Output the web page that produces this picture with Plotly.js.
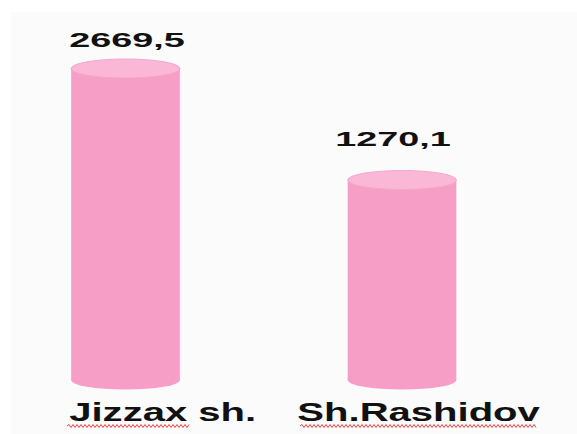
<!DOCTYPE html>
<html>
<head>
<meta charset="utf-8">
<script src="https://cdn.plot.ly/plotly-3.0.1.min.js"></script>
<style>
  html, body { margin: 0; padding: 0; background: #ffffff; }
  #chart { width: 577px; height: 434px; }
</style>
</head>
<body>
<div id="chart"></div>
<script>
// ---- data ----
const categories = ['Jizzax sh.', 'Sh.Rashidov'];
const values = [2669.5, 1270.1];
const valueLabels = ['2669,5', '1270,1'];

// ---- styles / positions (not data) ----
const sideColor = 'rgb(246,158,198)';
const topColor = 'rgb(250,184,214)';
const topLine = 'rgb(244,166,203)';
const barWidth = 0.393;
const yRange = [2.5255, 3.5667];
const plotTop = 20, plotBottom = 54;
const pxPerDecade = (434 - plotTop - plotBottom) / (yRange[1] - yRange[0]);
const ellipseHalfH = 9.5;
const ellipseFactor = Math.pow(10, ellipseHalfH / pxPerDecade);
const valueShiftX = [2, -9];
const valueShiftY = [29, 42];
const catShiftX = [36.5, 16.5];
const catShiftY = -32;
const squiggleSpan = [[-58.5, 64.5], [-102, 135]];  // px relative to bar centre
const squiggleY = -46;
const fontFam = '"Liberation Sans", Arial, sans-serif';

const traces = [{
  type: 'bar',
  x: categories,
  y: values,
  width: barWidth,
  marker: { color: sideColor, line: { width: 0 } },
  hoverinfo: 'skip',
  showlegend: false
}];

const shapes = [{
  type: 'rect', xref: 'paper', yref: 'paper', layer: 'below',
  x0: 0.019, x1: 1.0, y0: -0.16, y1: 1.022,
  fillcolor: '#fbfbfb', line: { width: 0 }
}];

function zigzag(x0, x1, y) {
  let p = 'M' + x0 + ',' + y;
  let up = true;
  for (let x = x0 + 2; x <= x1; x += 2) {
    p += ' L' + x + ',' + (y + (up ? 1.5 : -1.5));
    up = !up;
  }
  return p;
}

categories.forEach((c, i) => {
  // bottom ellipse (at axis floor)
  shapes.push({
    type: 'circle', xref: 'x', yref: 'paper', layer: 'above',
    x0: i - barWidth / 2, x1: i + barWidth / 2,
    ysizemode: 'pixel', yanchor: 0, y0: -ellipseHalfH, y1: ellipseHalfH,
    fillcolor: sideColor, line: { width: 0 }
  });
  // top ellipse (centred on the value)
  shapes.push({
    type: 'circle', xref: 'x', yref: 'y', layer: 'above',
    x0: i - barWidth / 2, x1: i + barWidth / 2,
    y0: values[i] / ellipseFactor, y1: values[i] * ellipseFactor,
    fillcolor: topColor, line: { width: 1, color: topLine }
  });
  // spell-check style wavy underline under the category label
  shapes.push({
    type: 'path', xref: 'x', yref: 'paper', layer: 'above',
    xsizemode: 'pixel', xanchor: i, ysizemode: 'pixel', yanchor: 0,
    path: zigzag(squiggleSpan[i][0], squiggleSpan[i][1], squiggleY),
    line: { width: 1, color: 'rgb(226,70,70)' }
  });
});

const annotations = [];
categories.forEach((c, i) => {
  annotations.push({
    x: c, y: Math.log10(values[i]), xref: 'x', yref: 'y',
    text: '<b>' + valueLabels[i] + '</b>', showarrow: false,
    xanchor: 'center', yanchor: 'middle',
    xshift: valueShiftX[i], yshift: valueShiftY[i],
    font: { family: fontFam, size: 21, color: '#111111' }
  });
  annotations.push({
    x: c, y: 0, xref: 'x', yref: 'paper',
    text: '<b>' + c + '</b>', showarrow: false,
    xanchor: 'center', yanchor: 'middle',
    xshift: catShiftX[i], yshift: catShiftY,
    font: { family: fontFam, size: 26, color: '#111111' }
  });
});

const layout = {
  width: 577, height: 434,
  margin: { l: 0, r: 0, t: plotTop, b: plotBottom, pad: 0 },
  paper_bgcolor: '#ffffff', plot_bgcolor: 'rgba(0,0,0,0)',
  showlegend: false,
  xaxis: { type: 'category', range: [-0.4539, 1.6329], visible: false, fixedrange: true },
  yaxis: { type: 'log', range: yRange, visible: false, fixedrange: true },
  shapes: shapes,
  annotations: annotations
};

Plotly.newPlot('chart', traces, layout, { displayModeBar: false, staticPlot: true }).then(() => {
  // horizontally stretch label text like the reference
  const scales = [1.8, 1.54, 1.8, 1.54];
  document.querySelectorAll('#chart text.annotation-text').forEach((t, k) => {
    const s = scales[k] || 1.6;
    const bb = t.getBBox();
    const cx = bb.x + bb.width / 2;
    t.setAttribute('transform', 'translate(' + (cx * (1 - s)) + ',0) scale(' + s + ',1)');
  });
});
</script>
</body>
</html>
